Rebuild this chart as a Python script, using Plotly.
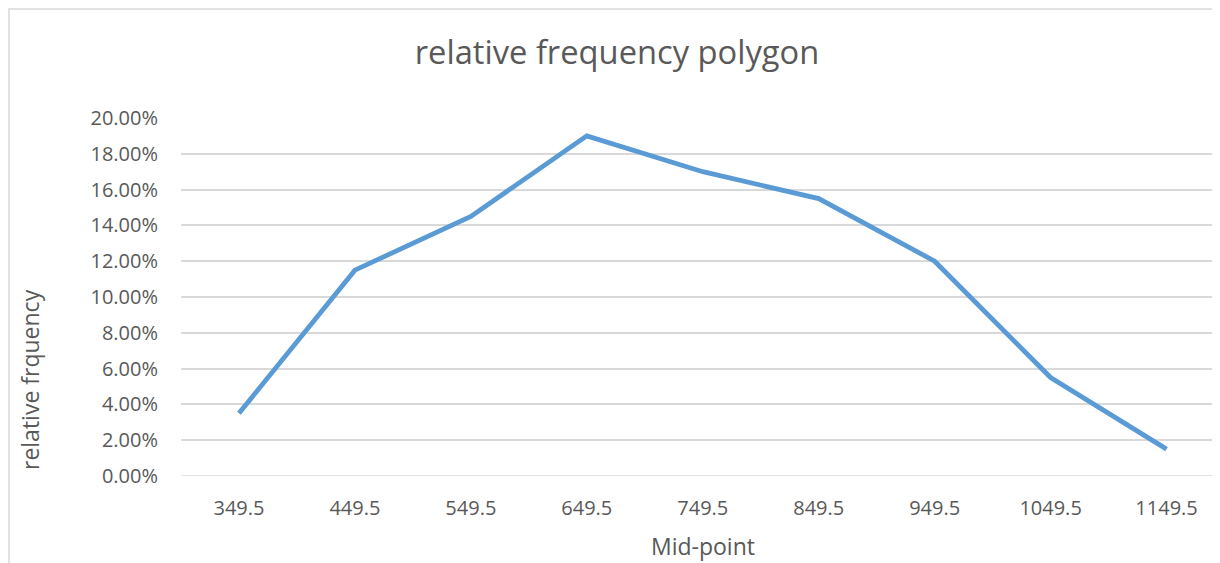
import plotly.graph_objects as go

midpoints = ["349.5", "449.5", "549.5", "649.5", "749.5", "849.5", "949.5", "1049.5", "1149.5"]
rel_freq = [0.035, 0.115, 0.145, 0.19, 0.17, 0.155, 0.12, 0.055, 0.015]
y_ticks = [0, 0.02, 0.04, 0.06, 0.08, 0.10, 0.12, 0.14, 0.16, 0.18, 0.20]

OFF = 8  # page body margin compensation
W, H = 1220, 563
L, T = 181 - OFF, 118 - OFF
ph = 358
B = H - T - ph
R = 0
pw = W - L - R

fig = go.Figure(go.Scatter(
    x=midpoints, y=rel_freq, mode="lines",
    line=dict(color="#5B9BD5", width=4.8),
    hoverinfo="x+y"
))

font = "Open Sans, Liberation Sans, sans-serif"
fig.update_layout(
    width=W, height=H,
    margin=dict(l=L, r=R, t=T, b=B),
    paper_bgcolor="white", plot_bgcolor="white",
    showlegend=False,
    font=dict(family=font, color="#595959", size=20),
    title=dict(text="relative frequency polygon", x=(617 - OFF) / W, xanchor="center",
               y=1 - (53 - OFF) / H, yanchor="middle",
               font=dict(size=32.7, color="#595959", family=font)),
)
fig.update_xaxes(
    type="category", range=[-0.5, 8.53], showgrid=False, zeroline=False,
    showline=False, ticks="", ticklabelstandoff=18,
    tickfont=dict(size=20, color="#595959")
)
fig.update_yaxes(
    range=[0, 0.2], tickvals=y_ticks, tickformat=".2%",
    showgrid=True, gridcolor="#D9D9D9", gridwidth=1.5, zeroline=False,
    showline=False, ticks="", ticklabelstandoff=22,
    tickfont=dict(size=20, color="#595959")
)
fig.add_shape(type="line", xref="paper", yref="y", x0=0, x1=1, y0=0, y1=0,
              line=dict(color="#D9D9D9", width=1.5), layer="below")
# outer chart border (left edge clamped to the figure's left edge)
fig.add_shape(type="rect", xref="paper", yref="paper",
              x0=(1 - L) / pw, x1=1.2, y0=(476 - 9) / ph, y1=-0.5,
              line=dict(color="#D9D9D9", width=1.5), fillcolor="rgba(0,0,0,0)")
fig.add_annotation(text="relative frquency", xref="paper", yref="paper",
                   x=(30 - 181) / pw, y=(476 - 380) / ph, textangle=-90,
                   xanchor="center", yanchor="middle",
                   showarrow=False, font=dict(size=23, color="#595959", family=font))
fig.add_annotation(text="Mid-point", xref="paper", yref="paper",
                   x=(703 - 181) / pw, y=(476 - 546) / ph,
                   xanchor="center", yanchor="middle",
                   showarrow=False, font=dict(size=23, color="#595959", family=font))

fig.write_html("out.html")
